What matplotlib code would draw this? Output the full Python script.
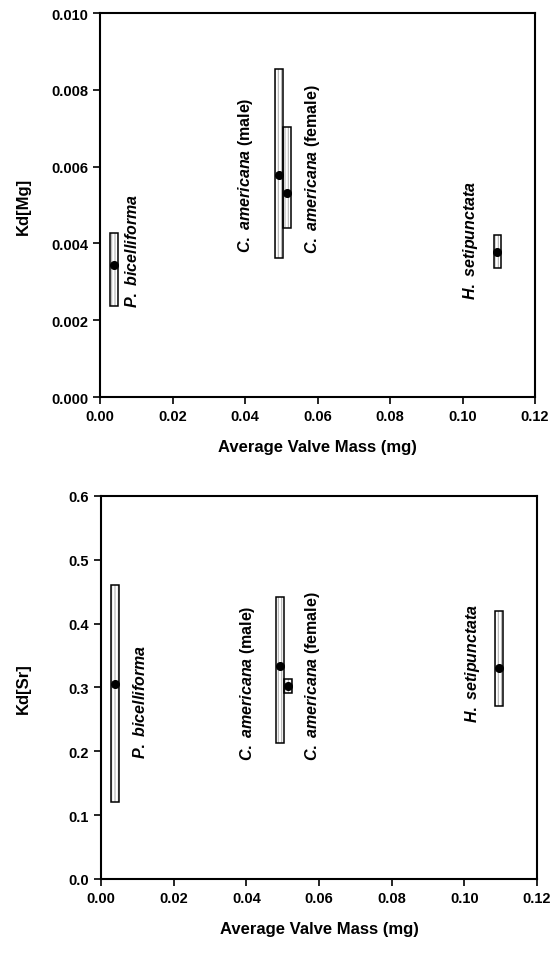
import numpy as np
import matplotlib
matplotlib.use('Agg')
import matplotlib.pyplot as plt
from matplotlib.ticker import FormatStrFormatter

plt.rcParams['font.family'] = ['Liberation Sans', 'DejaVu Sans']
plt.rcParams['font.weight'] = 'bold'
plt.rcParams['mathtext.fontset'] = 'custom'
plt.rcParams['mathtext.it'] = 'Liberation Sans:italic:bold'
plt.rcParams['mathtext.rm'] = 'Liberation Sans:bold'
plt.rcParams['hatch.linewidth'] = 0.8

# species, x = average valve mass (mg)
species = ['P. bicelliforma', 'C. americana (male)', 'C. americana (female)', 'H. setipunctata']
mass = [0.0038, 0.0493, 0.0515, 0.1096]

# Kd[Mg]: mean, range low, range high
mg_mean = [0.00343, 0.00578, 0.00532, 0.00377]
mg_low = [0.00238, 0.00362, 0.00440, 0.00335]
mg_high = [0.00427, 0.00853, 0.00704, 0.00422]

# Kd[Sr]
sr_mean = [0.305, 0.333, 0.302, 0.330]
sr_low = [0.120, 0.213, 0.292, 0.271]
sr_high = [0.460, 0.442, 0.314, 0.419]

# label anchors (x, y of text start)
mg_lab_x = [0.0088, 0.0401, 0.0585, 0.1023]
mg_lab_y = [0.00234, 0.00378, 0.00374, 0.00255]
sr_lab_x = [0.0107, 0.0403, 0.0583, 0.1022]
sr_lab_y = [0.189, 0.186, 0.186, 0.246]


def species_label(ax, x, y, name):
    genus, rest = name.split(' ', 1)
    if '(' in rest:
        sp, sex = rest.split(' ', 1)
        txt = '$\\mathit{' + genus + '\\ ' + sp + '}$ ' + sex
    else:
        txt = '$\\mathit{' + genus + '\\ ' + rest + '}$'
    ax.text(x, y, txt, rotation=90, ha='center', va='bottom',
            fontsize=11.5, fontweight='bold')


def panel(ax, mean, low, high, lab_x, lab_y, ylim, yticks, yfmt, ylabel):
    low = np.array(low)
    high = np.array(high)
    w = 0.0021
    ax.bar(mass, high - low, bottom=low, width=w, color='white',
           hatch='|||||', edgecolor='0.7', linewidth=0, zorder=2)
    ax.bar(mass, high - low, bottom=low, width=w, fill=False,
           edgecolor='black', linewidth=1.1, zorder=3)
    ax.plot(mass, mean, 'o', color='black', markersize=5.5, zorder=4)
    for x, y, name in zip(lab_x, lab_y, species):
        species_label(ax, x, y, name)
    ax.set_xlim(0, 0.12)
    ax.set_ylim(*ylim)
    ax.set_xticks(np.arange(0, 0.121, 0.02))
    ax.set_yticks(yticks)
    ax.xaxis.set_major_formatter(FormatStrFormatter('%.2f'))
    ax.yaxis.set_major_formatter(FormatStrFormatter(yfmt))
    ax.tick_params(direction='out', length=5, width=1.2, labelsize=10.5,
                   top=False, right=False)
    for lab in ax.get_xticklabels() + ax.get_yticklabels():
        lab.set_fontweight('bold')
    for s in ax.spines.values():
        s.set_linewidth(1.5)
    ax.set_xlabel('Average Valve Mass (mg)', fontsize=12, fontweight='bold', labelpad=12)
    ax.set_ylabel(ylabel, fontsize=12, fontweight='bold')
    ax.yaxis.set_label_coords(-0.16, 0.5)


fig = plt.figure(figsize=(5.6, 9.54), dpi=100)
ax1 = fig.add_axes([0.1786, 0.5828, 0.7768, 0.4025])
ax2 = fig.add_axes([0.1804, 0.0776, 0.7786, 0.4015])

panel(ax1, mg_mean, mg_low, mg_high, mg_lab_x, mg_lab_y,
      (0, 0.010), np.arange(0, 0.0101, 0.002), '%.3f', 'Kd[Mg]')
panel(ax2, sr_mean, sr_low, sr_high, sr_lab_x, sr_lab_y,
      (0, 0.6), np.arange(0, 0.61, 0.1), '%.1f', 'Kd[Sr]')

fig.savefig('out.png', dpi=100)
